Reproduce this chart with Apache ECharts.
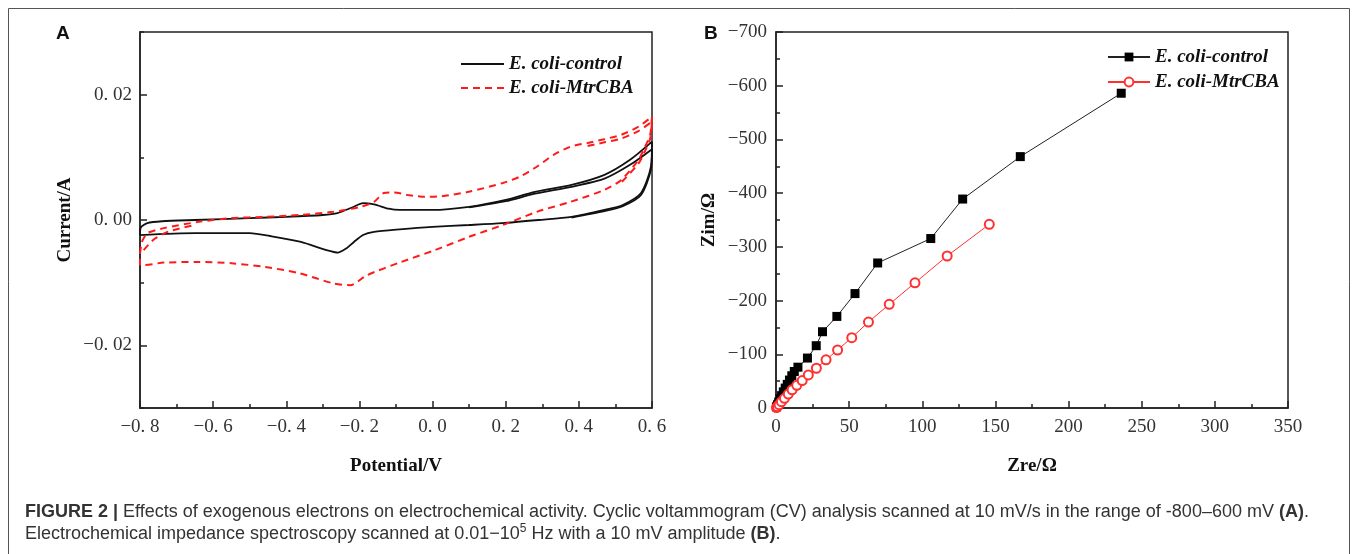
<!DOCTYPE html>
<html>
<head>
<meta charset="utf-8">
<script src="https://cdn.jsdelivr.net/npm/echarts@6/dist/echarts.min.js"></script>
<style>
html,body{margin:0;padding:0;background:#fff;overflow:hidden;}
#chart{position:absolute;left:0;top:0;width:1357px;height:554px;}
#cap{position:absolute;left:25px;top:500px;font-family:'Liberation Sans',Arial,sans-serif;font-size:18px;line-height:22px;color:#333;white-space:nowrap;z-index:2;}
#cap sup{font-size:12px;line-height:0;}
</style>
</head>
<body>
<div id="chart"></div>
<div id="cap"><b>FIGURE 2 |</b> Effects of exogenous electrons on electrochemical activity. Cyclic voltammogram (CV) analysis scanned at 10 mV/s in the range of -800–600 mV <b>(A)</b>.<br>Electrochemical impedance spectroscopy scanned at 0.01−10<sup>5</sup> Hz with a 10 mV amplitude <b>(B)</b>.</div>
<script>
// ---------- Panel A: cyclic voltammetry (potential V, current A) ----------
const cvControlV = [-0.800,-0.798,-0.780,-0.740,-0.650,-0.500,-0.400,-0.300,-0.260,-0.220,-0.190,-0.160,-0.120,-0.090,0.000,0.100,0.200,0.280,0.380,0.470,0.540,0.600,0.597,0.570,0.520,0.470,0.380,0.290,0.190,0.100,0.000,-0.090,-0.160,-0.190,-0.215,-0.235,-0.258,-0.290,-0.360,-0.440,-0.500,-0.650,-0.800];
const cvControlI = [-0.0024,-0.0012,-0.0005,-0.0002,0.0000,0.0003,0.0005,0.0008,0.0011,0.0020,0.0027,0.0025,0.0018,0.0016,0.0016,0.0021,0.0032,0.0045,0.0056,0.0072,0.0096,0.0125,0.0085,0.0043,0.0024,0.0016,0.0005,0.0000,-0.0005,-0.0008,-0.0011,-0.0015,-0.0019,-0.0024,-0.0035,-0.0045,-0.0052,-0.0048,-0.0035,-0.0026,-0.0021,-0.0021,-0.0024];
const cvControl2V = [0.100,0.200,0.280,0.380,0.470,0.540,0.600,0.597,0.570,0.520,0.470,0.380];
const cvControl2I = [0.0020,0.0030,0.0042,0.0053,0.0066,0.0088,0.0113,0.0080,0.0040,0.0022,0.0014,0.0004];
const cvMtrV = [-0.795,-0.780,-0.735,-0.640,-0.550,-0.457,-0.364,-0.272,-0.197,-0.160,-0.133,-0.105,-0.068,-0.021,0.025,0.099,0.192,0.238,0.285,0.331,0.377,0.424,0.470,0.516,0.563,0.600,0.595,0.581,0.563,0.516,0.470,0.377,0.285,0.192,0.099,0.007,-0.086,-0.179,-0.225,-0.272,-0.364,-0.457,-0.550,-0.640,-0.735,-0.790,-0.800,-0.800,-0.795];
const cvMtrI = [-0.0035,-0.0021,-0.0013,-0.0003,0.0003,0.0005,0.0008,0.0013,0.0021,0.0029,0.0043,0.0044,0.0040,0.0037,0.0038,0.0045,0.0059,0.0069,0.0085,0.0104,0.0117,0.0123,0.0129,0.0136,0.0149,0.0165,0.0136,0.0117,0.0096,0.0064,0.0048,0.0029,0.0013,-0.0008,-0.0027,-0.0048,-0.0067,-0.0088,-0.0104,-0.0101,-0.0085,-0.0075,-0.0069,-0.0067,-0.0068,-0.0072,-0.0072,-0.0055,-0.0035];
const cvMtr2V = [-0.790,-0.760,-0.720,-0.650];
const cvMtr2I = [-0.0048,-0.0030,-0.0018,-0.0008];
const cvMtr3V = [0.424,0.470,0.516,0.563,0.600,0.595,0.581,0.563,0.516];
const cvMtr3I = [0.0118,0.0124,0.0130,0.0142,0.0157,0.0130,0.0110,0.0090,0.0060];

// ---------- Panel B: impedance (Zre, Zim in ohm) ----------
const eisControlRe = [0.3,1.0,1.8,2.8,3.8,5.0,6.3,7.7,9.2,10.8,12.5,15.0,21.5,27.5,31.8,41.6,54.0,69.5,105.8,127.6,167.0,236.0];
const eisControlIm = [-2,-6,-11,-17,-23,-30,-37,-44,-52,-60,-68,-76,-93,-116,-142,-170.5,-213,-270,-315.5,-389,-468,-586];
const eisMtrRe = [0.3,1.0,2.1,3.7,5.8,8.4,11.0,14.2,17.9,22.1,27.6,34.2,42.1,51.8,63.2,77.4,95.0,117.0,145.8];
const eisMtrIm = [-0.8,-2.5,-6.2,-11.8,-18,-26,-34,-42.3,-51,-61.6,-74,-89.6,-108,-131,-160,-193,-233,-283,-342];

// ---------- ticks / labels ----------
const cvYLabelTicks = [-0.02, 0, 0.02];
const cvYMinorTicks = [-0.03, -0.01, 0.01, 0.03];
const legendNames = {
  'cv-control': 'E. coli-control', 'cv-mtr': 'E. coli-MtrCBA',
  'eis-control': 'E. coli-control', 'eis-mtr': 'E. coli-MtrCBA'
};

const zip = (a, b) => a.map((v, i) => [v, b[i]]);
const minus = s => s.replace('-', '\u2212');
const SERIF = "'Liberation Serif','Times New Roman',serif";
const AX = '#222';
const labelStyle = {fontFamily: SERIF, fontSize: 19, color: '#333'};
const nameStyle = {fontFamily: SERIF, fontSize: 19, fontWeight: 'bold', color: '#111'};
const legendText = {fontFamily: SERIF, fontSize: 19, fontWeight: 'bold', fontStyle: 'italic', color: '#111', lineHeight: 20};

const chart = echarts.init(document.getElementById('chart'), null, {renderer: 'canvas'});

const option = {
  animation: false,
  backgroundColor: '#fff',
  grid: [
    {left: 140, top: 32, width: 512, height: 376, show: true, borderColor: AX, borderWidth: 1.5, backgroundColor: 'transparent'},
    {left: 776, top: 32, width: 512, height: 376, show: true, borderColor: AX, borderWidth: 1.5, backgroundColor: 'transparent'}
  ],
  xAxis: [
    {
      gridIndex: 0, type: 'value', min: -0.8, max: 0.6, interval: 0.2,
      name: 'Potential/V', nameLocation: 'middle', nameGap: 49, nameTextStyle: nameStyle,
      axisLine: {show: true, onZero: false, lineStyle: {color: AX, width: 1.5}},
      axisTick: {show: true, inside: true, length: 7, lineStyle: {color: AX, width: 1.5}},
      minorTick: {show: true, splitNumber: 2, length: 4, lineStyle: {color: AX, width: 1.5}},
      axisLabel: Object.assign({margin: 10, formatter: v => (v < -1e-9 ? '\u2212' : '') + Math.abs(v).toFixed(1).replace('.', '. ')}, labelStyle),
      splitLine: {show: false}
    },
    {
      gridIndex: 1, type: 'value', min: 0, max: 350, interval: 50,
      name: 'Zre/\u03A9', nameLocation: 'middle', nameGap: 49, nameTextStyle: nameStyle,
      axisLine: {show: true, onZero: false, lineStyle: {color: AX, width: 1.5}},
      axisTick: {show: true, inside: true, length: 7, lineStyle: {color: AX, width: 1.5}},
      minorTick: {show: true, splitNumber: 2, length: 4, lineStyle: {color: AX, width: 1.5}},
      axisLabel: Object.assign({margin: 10, formatter: v => String(v)}, labelStyle),
      splitLine: {show: false}
    }
  ],
  yAxis: [
    {
      gridIndex: 0, type: 'value', position: 'left', min: -0.03, max: 0.03, interval: 0.01,
      name: 'Current/A', nameLocation: 'middle', nameGap: 65, nameTextStyle: nameStyle,
      axisLine: {show: true, onZero: false, lineStyle: {color: AX, width: 1.5}},
      axisTick: {show: true, inside: true, length: 7, customValues: cvYLabelTicks, lineStyle: {color: AX, width: 1.5}},
      axisLabel: Object.assign({margin: 8, customValues: cvYLabelTicks, formatter: v => (v < -1e-9 ? '\u2212' : '') + Math.abs(v).toFixed(2).replace('.', '. ')}, labelStyle),
      splitLine: {show: false}
    },
    {
      gridIndex: 0, type: 'value', position: 'left', min: -0.03, max: 0.03, interval: 0.01,
      axisLine: {show: false, onZero: false},
      axisTick: {show: true, inside: true, length: 4, customValues: cvYMinorTicks, lineStyle: {color: AX, width: 1.5}},
      axisLabel: {show: false},
      splitLine: {show: false}
    },
    {
      gridIndex: 1, type: 'value', position: 'left', min: -700, max: 0, interval: 100, inverse: true,
      name: 'Zim/\u03A9', nameLocation: 'middle', nameGap: 57, nameTextStyle: nameStyle,
      axisLine: {show: true, onZero: false, lineStyle: {color: AX, width: 1.5}},
      axisTick: {show: true, inside: true, length: 7, lineStyle: {color: AX, width: 1.5}},
      minorTick: {show: true, splitNumber: 2, length: 4, lineStyle: {color: AX, width: 1.5}},
      axisLabel: Object.assign({margin: 9, formatter: v => v === 0 ? '0' : minus(String(v))}, labelStyle),
      splitLine: {show: false}
    }
  ],
  legend: [
    {
      data: ['cv-control', 'cv-mtr'], left: 455, top: 49, orient: 'vertical', itemGap: 4,
      itemWidth: 43, itemHeight: 12, formatter: n => legendNames[n], textStyle: legendText,
      itemStyle: {opacity: 0}, selectedMode: false
    },
    {
      data: ['eis-control', 'eis-mtr'], left: 1102, top: 42, orient: 'vertical', itemGap: 5,
      itemWidth: 42, itemHeight: 11, formatter: n => legendNames[n], textStyle: legendText,
      selectedMode: false
    }
  ],
  graphic: [
    {type: 'rect', silent: true, z: -1, shape: {x: 8.5, y: 8.5, width: 1341, height: 600}, style: {fill: 'none', stroke: '#555', lineWidth: 1}},
    {type: 'text', left: 56, top: 24, style: {text: 'A', font: "bold 19px 'Liberation Sans', Arial, sans-serif", fill: '#111'}},
    {type: 'text', left: 704, top: 24, style: {text: 'B', font: "bold 19px 'Liberation Sans', Arial, sans-serif", fill: '#111'}}
  ],
  series: [
    {name: 'cv-control', type: 'line', xAxisIndex: 0, yAxisIndex: 0, data: zip(cvControlV, cvControlI), symbol: 'none', smooth: 0.25, lineStyle: {color: '#111', width: 1.8}, itemStyle: {color: '#111'}},
    {name: 'cv-control', type: 'line', xAxisIndex: 0, yAxisIndex: 0, data: zip(cvControl2V, cvControl2I), symbol: 'none', smooth: 0.25, lineStyle: {color: '#111', width: 1.8}, itemStyle: {color: '#111'}},
    {name: 'cv-mtr', type: 'line', xAxisIndex: 0, yAxisIndex: 0, data: zip(cvMtrV, cvMtrI), symbol: 'none', smooth: 0.25, lineStyle: {color: '#ff1a1a', width: 2, type: [7, 5]}, itemStyle: {color: '#ff1a1a'}},
    {name: 'cv-mtr', type: 'line', xAxisIndex: 0, yAxisIndex: 0, data: zip(cvMtr2V, cvMtr2I), symbol: 'none', smooth: 0.25, lineStyle: {color: '#ff1a1a', width: 2, type: [7, 5]}, itemStyle: {color: '#ff1a1a'}},
    {name: 'cv-mtr', type: 'line', xAxisIndex: 0, yAxisIndex: 0, data: zip(cvMtr3V, cvMtr3I), symbol: 'none', smooth: 0.25, lineStyle: {color: '#ff1a1a', width: 2, type: [7, 5]}, itemStyle: {color: '#ff1a1a'}},
    {name: 'eis-control', type: 'line', xAxisIndex: 1, yAxisIndex: 2, data: zip(eisControlRe, eisControlIm), symbol: 'rect', symbolSize: 9, lineStyle: {color: '#222', width: 1}, itemStyle: {color: '#000'}},
    {name: 'eis-mtr', type: 'line', xAxisIndex: 1, yAxisIndex: 2, data: zip(eisMtrRe, eisMtrIm), symbol: 'emptyCircle', symbolSize: 9, lineStyle: {color: '#ff3030', width: 1}, itemStyle: {color: '#ff3030', borderColor: '#ff3030', borderWidth: 1}}
  ]
};
chart.setOption(option);
</script>
</body>
</html>
